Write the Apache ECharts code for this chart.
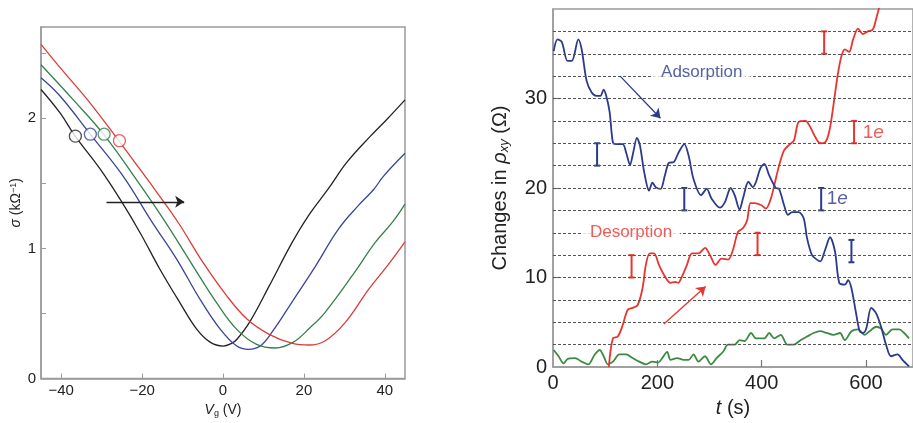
<!DOCTYPE html>
<html>
<head>
<meta charset="utf-8">
<script src="https://cdn.jsdelivr.net/npm/echarts@6/dist/echarts.min.js"></script>
<style>
  html, body { margin: 0; padding: 0; background: #fff; }
  #chart { width: 913px; height: 423px; }
</style>
</head>
<body>
<div id="chart"></div>
<script>
// ---- Left panel: conductivity vs gate voltage, four sweeps ----
const sweep1 = [[-45,2.22],[-40.3,2.04],[-36.5,1.86],[-30.4,1.61],[-25.3,1.37],[-20.5,1.12],[-15.6,0.84],[-10.6,0.58],[-6.5,0.38],[-3.2,0.28],[0,0.25],[2.1,0.27],[3.4,0.30],[6.7,0.44],[11.4,0.71],[17,1.04],[21.1,1.25],[26.1,1.46],[30.6,1.66],[36.4,1.86],[40.5,1.99],[45,2.14]];
const sweep2 = [[-45,2.31],[-40.3,2.17],[-32.9,1.88],[-24.7,1.555],[-17.7,1.21],[-11.5,0.92],[-5.7,0.61],[-0.7,0.38],[3.4,0.25],[6.3,0.225],[9.2,0.25],[12.2,0.36],[17.1,0.59],[22.8,0.86],[28.5,1.146],[33.5,1.33],[37.2,1.45],[39.7,1.555],[45,1.73]];
const sweep3 = [[-45,2.41],[-37,2.14],[-29.5,1.875],[-20.1,1.47],[-14,1.19],[-7.4,0.864],[-1.6,0.583],[3.4,0.378],[8.3,0.263],[12.9,0.235],[17.4,0.28],[21.5,0.39],[25.2,0.507],[31.9,0.788],[37.6,1.044],[41.8,1.197],[45,1.34]];
const sweep4 = [[-45,2.567],[-39.9,2.374],[-32.9,2.118],[-25.7,1.824],[-20.5,1.606],[-16.8,1.45],[-11,1.195],[-4.9,0.89],[0.7,0.645],[6,0.455],[11.4,0.34],[17.2,0.27],[21.3,0.258],[25.2,0.289],[30.2,0.43],[36,0.685],[40.9,0.877],[45,1.05]];
const sweepMarkers = [[-36.5,1.862],[-32.8,1.877],[-29.4,1.877],[-25.6,1.827]];
const shiftArrow = [[-28.8,1.358],[-9.6,1.358]];
const vgTicks = [-40,-20,0,20,40];
const sigmaLabels = [0,1,2];
const sigmaTicks = [0.5,1,1.5,2,2.5];

// ---- Right panel: Hall resistivity changes vs time ----
const adsorption = [[1.3,35.3],[8.8,36.6],[17,36.3],[27.8,34.2],[36,34.2],[48.6,36.6],[54.9,35.5],[64.3,32.0],[73.8,30.7],[83.3,30.3],[90.8,30.3],[97.1,31.0],[102,30.3],[108.5,28.5],[114.8,25.1],[121,24.9],[133.7,24.9],[140,24.0],[147.6,22.6],[153.9,24.0],[160.8,25.6],[166.5,24.8],[174.7,21.8],[184.2,19.7],[190.5,20.6],[196.8,20.1],[206.2,19.9],[214.4,21.4],[222,22.8],[231.5,22.9],[241,24.0],[251.7,24.9],[260,23.6],[269.3,21.0],[283.8,19.2],[294.6,19.9],[304,18.8],[319.8,17.8],[329.3,18.4],[340.6,20.0],[348.2,19.2],[357.6,17.6],[364,18.8],[374.6,20.7],[382.9,20.1],[389.2,20.7],[397.4,22.2],[405,22.7],[414.4,21.4],[427,20.0],[433.3,19.9],[442.8,18.1],[450.3,17.0],[458.5,17.3],[471,17.3],[480.6,16.6],[486.9,14.4],[496.4,12.5],[505.8,12.0],[512.2,11.8],[521.6,13.1],[531,14.5],[540.5,12.9],[548.7,9.4],[559.4,9.2],[565.7,9.7],[572,8.8],[580.3,6.2],[587.8,4.0],[594.1,3.8],[600.4,4.3],[609.9,6.6],[619.4,6.0],[628.8,4.5],[638.3,2.5],[647.8,1.2],[660.4,1.4],[669.9,0.8],[682.4,0.07]];
const desorption = [[107,0],[114.8,3.2],[124.3,3.4],[133.7,4.7],[143.2,6.4],[152.6,6.6],[162.1,6.9],[171.6,8.8],[177.9,11.4],[185.4,12.7],[193.6,12.7],[203.1,11.4],[212.6,10.3],[225.2,9.4],[234.6,9.5],[239.7,9.4],[247.2,10.1],[256.7,11.4],[266.2,12.7],[278.8,12.7],[291.4,13.3],[300.9,12.5],[311.6,11.4],[323,12.1],[335.6,12.0],[345,13.1],[354.5,15.1],[364,15.5],[372.1,16.4],[378.5,18.3],[386,18.3],[398.6,18.1],[408.1,17.7],[417.5,18.8],[425.7,20.7],[433.3,22.5],[442.8,24.2],[452.2,24.8],[461.7,25.3],[471,27.4],[483.8,27.5],[493.2,26.8],[502.7,25.7],[512.2,25.0],[521.6,25.1],[529.8,26.4],[537.4,29.2],[545.6,32.6],[553.1,34.8],[559.4,35.5],[567.6,35.2],[575.2,36.6],[584.6,37.8],[594.1,37.2],[603.5,37.5],[613,37.7],[619.4,38.9],[627,40.6]];
const reference = [[1.3,1.9],[10.7,1.2],[20.2,0.4],[27.8,0.9],[42.3,1.0],[54.9,0.6],[67.5,0.3],[80.1,1.4],[89.6,1.9],[97.1,1.2],[105.3,0.3],[114.8,0.6],[127.4,1.4],[140,1.4],[152.6,1.0],[165.2,0.6],[177.9,0.3],[190.5,0.6],[201.8,0.5],[209.4,1.0],[218.9,1.7],[225.2,0.8],[237.8,1.0],[250.4,0.8],[259.9,0.8],[269.3,1.4],[278.8,0.6],[291.4,1.2],[302.7,0.3],[313.5,1.0],[326,1.7],[335.5,2.5],[348.2,2.5],[357.6,3.0],[367,2.9],[379.7,3.8],[389.2,3.2],[405,3.2],[414.4,3.8],[423.9,3.2],[436.5,3.6],[449.1,2.5],[461.7,2.5],[474.3,3.0],[486.9,3.4],[499.5,3.8],[512.2,4.0],[524.8,3.8],[537.4,3.6],[550,3.8],[559.4,3.0],[572,4.0],[584.6,4.2],[597.2,3.6],[606.7,4.0],[619.4,4.5],[628.8,4.3],[638.3,3.6],[650.9,4.2],[663.5,4.2],[673,3.8],[682.4,3.2]];
const adsorptionSteps = [[84.5,22.5,25],[251.6,17.5,20],[514,17.5,20],[572,11.7,14.2]];
const desorptionSteps = [[150.6,10,12.5],[392,12.5,15],[519.7,35,37.5],[577,25,27.5]];
const adsorptionArrow = [[128.7,32.5],[206,27.8]];
const desorptionArrow = [[212.5,4.8],[292.5,9.0]];
const gridLevels = [2.5,5,7.5,10,12.5,15,17.5,20,22.5,25,27.5,30,32.5,35,37.5];
const tLabels = [0,200,400,600];
const tTicks = [200,400,600];
const rhoLabels = [0,10,20,30];
const rhoTicks = [10,20,30];
// [t, value, text, kind]
const panelTexts = [[285,32.9,'Adsorption','ads'],[149.5,15.0,'Desorption','des'],[545,18.8,'1e','ads1e'],[614,26.2,'1e','des1e']];

const FONT = "'Liberation Sans', Arial, sans-serif";
const C_BLACK = '#222222', C_BLUE_L = '#3a4499', C_GREEN_L = '#35804a', C_RED_L = '#dc3b3b';
const C_BLUE = '#2b3a8c', C_RED = '#e8352f', C_GREEN = '#3c8a42';
const AXIS_GRAY = '#9b9b9b';

const minus = v => String(v).replace('-', '\u2212');

function stepBars(data, color, xi, yi) {
  return {
    type: 'custom', xAxisIndex: xi, yAxisIndex: yi, z: 4, silent: true,
    data: data,
    renderItem: function (params, api) {
      const x = api.value(0);
      const top = api.coord([x, api.value(2)]);
      const bot = api.coord([x, api.value(1)]);
      const w = 3;
      const st = { stroke: color, lineWidth: 2 };
      return {
        type: 'group',
        children: [
          { type: 'line', shape: { x1: top[0], y1: top[1], x2: bot[0], y2: bot[1] }, style: st },
          { type: 'line', shape: { x1: top[0] - w, y1: top[1], x2: top[0] + w, y2: top[1] }, style: st },
          { type: 'line', shape: { x1: bot[0] - w, y1: bot[1], x2: bot[0] + w, y2: bot[1] }, style: st }
        ]
      };
    }
  };
}

function arrowLine(pts, color, width, size) {
  return {
    silent: true,
    symbol: ['none', 'arrow'],
    symbolSize: size,
    label: { show: false },
    lineStyle: { color: color, width: width, type: 'solid' },
    emphasis: { disabled: true },
    data: [[{ coord: pts[0] }, { coord: pts[1] }]]
  };
}

const markerColors = [C_BLACK, C_BLUE_L, C_GREEN_L, C_RED_L];
const textStyles = {
  ads: { color: C_BLUE, bg: '#fff' },
  des: { color: C_RED, bg: '#fff' },
  ads1e: { color: C_BLUE, bg: 'transparent' },
  des1e: { color: C_RED, bg: 'transparent' }
};

function sweepSeries(data, color) {
  return { type: 'line', xAxisIndex: 0, yAxisIndex: 0, data: data, smooth: 0.4,
    showSymbol: false, z: 3, lineStyle: { color: color, width: 1.3 }, itemStyle: { color: color } };
}

const option = {
  animation: false,
  backgroundColor: '#ffffff',
  textStyle: { fontFamily: FONT },
  grid: [
    { left: 41, top: 27, width: 364, height: 352, show: true, borderColor: AXIS_GRAY, borderWidth: 1.5, backgroundColor: 'transparent' },
    { left: 553, top: 9, width: 364.7, height: 360, show: true, borderColor: AXIS_GRAY, borderWidth: 1.5, backgroundColor: 'transparent' }
  ],
  xAxis: [
    {
      gridIndex: 0, type: 'value', min: -45, max: 45,
      axisLine: { onZero: false, lineStyle: { color: AXIS_GRAY, width: 1.5 } },
      axisTick: { inside: true, length: 5, customValues: vgTicks, lineStyle: { color: AXIS_GRAY } },
      axisLabel: { customValues: vgTicks, color: '#222', fontSize: 15, fontFamily: FONT, margin: 5, formatter: minus },
      splitLine: { show: false },
      name: '{i|V}{s|g}{n| (V)}', nameLocation: 'middle', nameGap: 21,
      nameTextStyle: {
        rich: {
          i: { fontSize: 14, fontStyle: 'italic', fontFamily: FONT, color: '#222' },
          s: { fontSize: 9, fontFamily: FONT, color: '#222', verticalAlign: 'bottom', padding: [6, 0, 0, 0] },
          n: { fontSize: 14, fontFamily: FONT, color: '#222' }
        }
      }
    },
    {
      gridIndex: 1, type: 'value', min: 0, max: 690,
      axisLine: { onZero: false, lineStyle: { color: AXIS_GRAY, width: 1.5 } },
      axisTick: { inside: true, length: 7, customValues: tTicks, lineStyle: { color: '#777', width: 1.2 } },
      axisLabel: { customValues: tLabels, color: '#222', fontSize: 20, fontFamily: FONT, margin: 6 },
      splitLine: { show: false },
      name: '{i|t}{n| (s)}', nameLocation: 'middle', nameGap: 31,
      nameTextStyle: {
        rich: {
          i: { fontSize: 20, fontStyle: 'italic', fontFamily: FONT, color: '#222' },
          n: { fontSize: 20, fontFamily: FONT, color: '#222' }
        }
      }
    }
  ],
  yAxis: [
    {
      gridIndex: 0, type: 'value', min: 0, max: 2.7,
      axisLine: { onZero: false, lineStyle: { color: AXIS_GRAY, width: 1.5 } },
      axisTick: { inside: true, length: 5, customValues: sigmaTicks, lineStyle: { color: AXIS_GRAY } },
      axisLabel: { customValues: sigmaLabels, color: '#222', fontSize: 15, fontFamily: FONT, margin: 5 },
      splitLine: { show: false },
      name: '{i|σ}{n| (kΩ}{s|−1}{n|)}', nameLocation: 'middle', nameGap: 17, nameRotate: 90,
      nameTextStyle: {
        rich: {
          i: { fontSize: 14, fontStyle: 'italic', fontFamily: FONT, color: '#222' },
          n: { fontSize: 14, fontFamily: FONT, color: '#222' },
          s: { fontSize: 9, fontFamily: FONT, color: '#222', verticalAlign: 'top', padding: [0, 0, 6, 0] }
        }
      }
    },
    {
      gridIndex: 1, type: 'value', min: 0, max: 40,
      axisLine: { onZero: false, lineStyle: { color: AXIS_GRAY, width: 1.5 } },
      axisTick: { inside: true, length: 7, customValues: rhoTicks, lineStyle: { color: '#777', width: 1.2 } },
      axisLabel: { customValues: rhoLabels, color: '#222', fontSize: 20, fontFamily: FONT, margin: 6 },
      splitLine: { show: false },
      name: '{n|Changes in }{i|ρ}{s|xy}{n| (Ω)}', nameLocation: 'middle', nameGap: 42, nameRotate: 90,
      nameTextStyle: {
        rich: {
          n: { fontSize: 20, fontFamily: FONT, color: '#222' },
          i: { fontSize: 20, fontStyle: 'italic', fontFamily: FONT, color: '#222' },
          s: { fontSize: 13, fontStyle: 'italic', fontFamily: FONT, color: '#222', verticalAlign: 'bottom', padding: [8, 0, 0, 0] }
        }
      }
    }
  ],
  series: [
    // left panel sweeps
    Object.assign(sweepSeries(sweep1, C_BLACK), { markLine: arrowLine(shiftArrow, C_BLACK, 1.3, 9) }),
    sweepSeries(sweep2, C_BLUE_L),
    sweepSeries(sweep3, C_GREEN_L),
    sweepSeries(sweep4, C_RED_L),
    { type: 'scatter', xAxisIndex: 0, yAxisIndex: 0, z: 5, silent: true, symbol: 'circle', symbolSize: 12,
      data: sweepMarkers.map((p, i) => ({ value: p, itemStyle: { color: '#fff', borderColor: markerColors[i], borderWidth: 1.3 } })) },

    // right panel dashed reference levels
    { type: 'line', xAxisIndex: 1, yAxisIndex: 1, data: [], z: 1,
      markLine: {
        silent: true, symbol: ['none', 'none'], label: { show: false },
        lineStyle: { color: '#555', width: 1, type: [3, 2] },
        emphasis: { disabled: true },
        data: gridLevels.map(v => ({ yAxis: v }))
      } },
    // right panel traces
    { type: 'line', xAxisIndex: 1, yAxisIndex: 1, data: reference, smooth: 0.3, showSymbol: false, z: 3,
      lineStyle: { color: C_GREEN, width: 1.8 } },
    { type: 'line', xAxisIndex: 1, yAxisIndex: 1, data: desorption, smooth: 0.3, showSymbol: false, z: 3,
      lineStyle: { color: C_RED, width: 1.8 },
      markLine: arrowLine(desorptionArrow, C_RED, 1.3, 9) },
    { type: 'line', xAxisIndex: 1, yAxisIndex: 1, data: adsorption, smooth: 0.3, showSymbol: false, z: 3,
      lineStyle: { color: C_BLUE, width: 1.8 },
      markLine: arrowLine(adsorptionArrow, C_BLUE, 1.3, 9) },
    stepBars(adsorptionSteps, C_BLUE, 1, 1),
    stepBars(desorptionSteps, C_RED, 1, 1),
    // right panel annotations
    { type: 'scatter', xAxisIndex: 1, yAxisIndex: 1, z: 6, silent: true, symbolSize: 0,
      data: panelTexts.map(d => {
        const st = textStyles[d[3]];
        const is1e = d[2] === '1e';
        return {
          value: [d[0], d[1]],
          label: {
            show: true, position: 'inside',
            formatter: is1e ? '{n|1}{i|e}' : d[2],
            color: st.color, fontSize: 17, fontFamily: FONT,
            backgroundColor: st.bg, padding: [0, 8],
            rich: is1e ? {
              n: { color: st.color, fontSize: 19, fontFamily: FONT },
              i: { color: st.color, fontSize: 19, fontStyle: 'italic', fontFamily: FONT }
            } : undefined
          }
        };
      }) }
  ]
};

const chart = echarts.init(document.getElementById('chart'), null, { renderer: 'canvas' });
chart.setOption(option);
</script>
</body>
</html>
